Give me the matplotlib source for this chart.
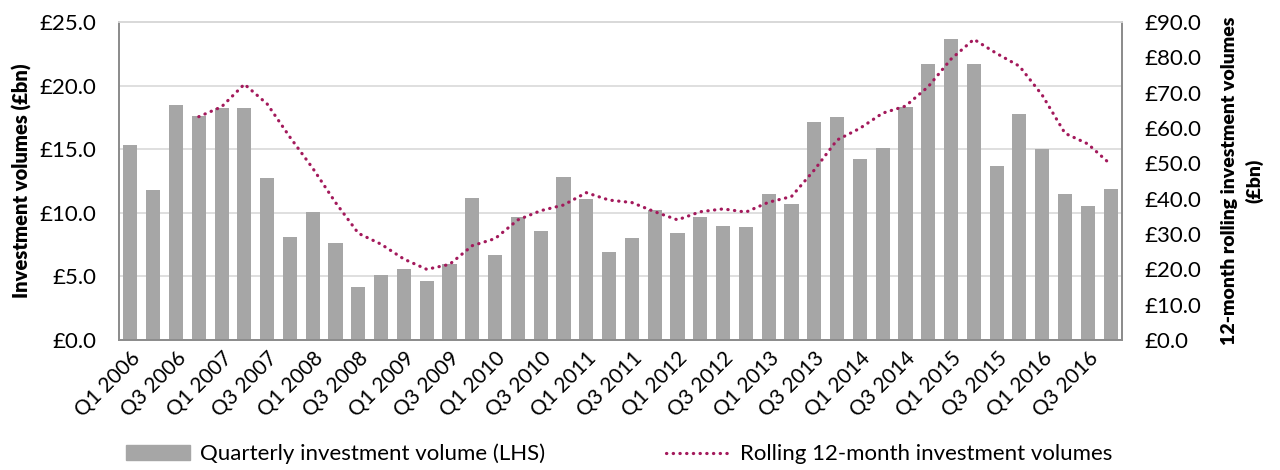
import numpy as np
import matplotlib.pyplot as plt
from matplotlib.lines import Line2D
from matplotlib.patches import Patch

plt.rcParams['font.family'] = ['Lato', 'DejaVu Sans']

# quarterly investment volumes, £bn, Q1 2006 .. Q4 2016
quarters = [f"Q{q} {y}" for y in range(2006, 2017) for q in range(1, 5)]
quarterly = [15.3, 11.8, 18.5, 17.6, 18.2, 18.2, 12.7, 8.1, 10.1, 7.6, 4.2,
             5.1, 5.6, 4.6, 6.0, 11.2, 6.7, 9.7, 8.6, 12.8, 11.1, 6.9, 8.0,
             10.2, 8.4, 9.7, 9.0, 8.9, 11.5, 10.7, 17.1, 17.5, 14.2, 15.1,
             18.3, 21.7, 23.7, 21.7, 13.7, 17.8, 15.0, 11.5, 10.5, 11.9]

# rolling 12-month volumes, £bn, from Q4 2006
rolling = [63.2, 66.0, 72.4, 66.8, 57.4, 48.6, 38.9, 30.2, 27.1, 22.9, 20.0,
           21.4, 26.7, 28.7, 34.0, 36.6, 38.2, 41.7, 39.6, 38.9, 36.3, 34.0,
           36.3, 37.1, 36.2, 39.0, 40.6, 48.1, 56.6, 59.9, 64.2, 66.2, 71.7,
           79.5, 85.1, 81.1, 77.5, 69.3, 58.5, 55.5, 49.7]

x = np.arange(len(quarters))
bar_col = '#A6A6A6'
line_col = '#A3195B'
grid_col = '#D9D9D9'
spine_col = '#8C8C8C'
dots = (0, (0.1, 2.0))

fig = plt.figure(figsize=(12.8, 4.7), dpi=100)
ax = fig.add_axes([119 / 1280, 1 - 340 / 470, (1122 - 119) / 1280, 318 / 470])
ax2 = ax.twinx()

ax.bar(x, quarterly, width=0.62, color=bar_col, zorder=2)
ax2.plot(x[3:], rolling, color=line_col, lw=2.3,
         linestyle=dots, dash_capstyle='round', zorder=3)

ax.set_xlim(-0.5, len(quarters) - 0.5)
ax.set_ylim(0, 25)
ax2.set_ylim(0, 90)
ax.set_yticks(np.arange(0, 26, 5))
ax2.set_yticks(np.arange(0, 91, 10))
ax.set_yticklabels([f"£{v:.1f}" for v in np.arange(0, 26, 5)])
ax2.set_yticklabels([f"£{v:.1f}" for v in np.arange(0, 91, 10)])

ax.set_xticks(x[::2])
ax.set_xticklabels(quarters[::2], rotation=45, ha='right', rotation_mode='anchor')

ax.yaxis.grid(True, color=grid_col, lw=1.2, zorder=0)
ax.set_axisbelow(True)
for a in (ax, ax2):
    a.tick_params(length=0, labelsize=16, colors='black')
    for s in a.spines.values():
        s.set_color(spine_col)
        s.set_linewidth(1.3)
    a.spines['top'].set_color(grid_col)
ax.tick_params(axis='x', pad=6, labelsize=15)
ax.tick_params(axis='y', pad=16)
ax2.tick_params(axis='y', pad=16)
for lbl in ax2.get_yticklabels():
    lbl.set_ha('left')

ax.set_ylabel("Investment volumes (£bn)", fontsize=14.5, fontweight='heavy', labelpad=6)
ax2.set_ylabel("12-month rolling investment volumes\n(£bn)", fontsize=14,
               fontweight='heavy', labelpad=14, rotation=90, linespacing=1.5)

handles = [Patch(color=bar_col),
           Line2D([], [], color=line_col, lw=2.3, linestyle=dots,
                  dash_capstyle='round')]
fig.legend(handles, ["Quarterly investment volume (LHS)",
                     "Rolling 12-month investment volumes"],
           loc='lower left', bbox_to_anchor=(126 / 1280, 0.012), ncol=2,
           frameon=False, fontsize=16, handlelength=2.9, handleheight=0.6,
           columnspacing=5.4, handletextpad=0.45, borderpad=0, borderaxespad=0)

fig.savefig('out.png', dpi=100)
